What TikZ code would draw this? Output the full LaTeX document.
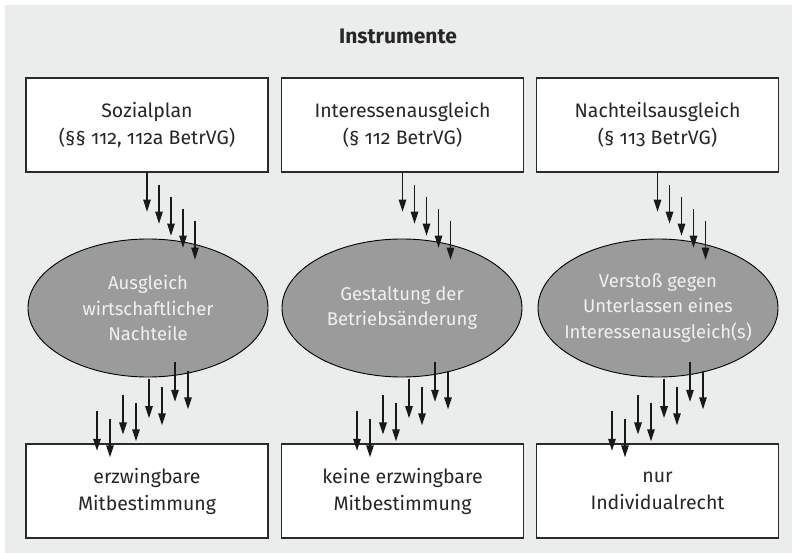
\documentclass[tikz,border=0pt]{standalone}
\usepackage{fontspec}
\setmainfont[Numbers=OldStyle]{Fira Sans}
\usetikzlibrary{arrows.meta,positioning,calc,shapes.geometric}
\definecolor{cBg}  {HTML}{EBECEC}
\definecolor{cLine}{HTML}{2A2A2A}
\definecolor{cElp} {HTML}{9B9B9B}
\definecolor{cTxt} {HTML}{262626}
\tikzset{
  blk/.style    ={draw=cLine,fill=white,line width=1.3pt,minimum width=242pt,
                  minimum height=94pt,inner sep=0pt,align=center,text=cTxt,
                  font=\fontsize{19.5}{27}\selectfont},
  elp/.style    ={ellipse,draw=black,fill=cElp,line width=0.9pt,minimum width=240pt,
                  minimum height=138pt,inner sep=0pt},
  elptxt/.style ={align=center,text=white!94!black,inner sep=0pt,
                  font=\fontsize{18.5}{25.5}\selectfont},
  ttl/.style    ={font=\fontsize{21}{26}\selectfont\bfseries,text=cTxt},
  sig/.style    ={-{Triangle[length=12pt,width=7.5pt]},draw=black!90,line width=1.3pt},
}

\begin{document}
\begin{tikzpicture}[x=1pt,y=-1pt]
\useasboundingbox (0,0) rectangle (797,553);
\fill[cBg] (5,5) rectangle (792,553);

\node[ttl] (ttl) at (398,36) {Instrumente};

% instruments
\node[blk] (p1) at (147,125)   {Sozialplan\\(§§ 112, 112a BetrVG)};
\node[blk] (p2) at (402.5,125) {Interessenausgleich\\(§ 112 BetrVG)};
\node[blk] (p3) at (657.5,125) {Nachteilsausgleich\\(§ 113 BetrVG)};

% purpose
\node[elp,label={[elptxt]center:Ausgleich\\wirtschaftlicher\\Nachteile}] (z1) at (148,308) {};
\node[elp,label={[elptxt]center:Gestaltung der\\Betriebsänderung}] (z2) at (402,308) {};
\node[elp,label={[elptxt]center:Verstoß gegen\\Unterlassen eines\\Interessenausgleich(s)}] (z3) at (658,308) {};

% rights
\node[blk] (r1) at (147,491)   {erzwingbare\\Mitbestimmung};
\node[blk] (r2) at (402.5,491) {keine erzwingbare\\Mitbestimmung};
\node[blk] (r3) at (657.5,491) {nur\\Individualrecht};

\foreach \p/\r/\o in {p1/r1/28,p2/r2/32.5,p3/r3/32.5}{
  \foreach \k in {0,...,4}
    \draw[sig] ($(\p.south)+(12*\k,12*\k)$) -- ++(0,39);
  \foreach \k in {0,...,3}{
    \draw[sig] ($(\r.north)+(\o-26*\k,-81+16.3*\k)$) -- ++(0,39.5);
    \draw[sig] ($(\r.north)+(\o+13-26*\k,-72.5+16*\k)$) -- ++(0,38.5);
  }
}
\end{tikzpicture}
\end{document}
